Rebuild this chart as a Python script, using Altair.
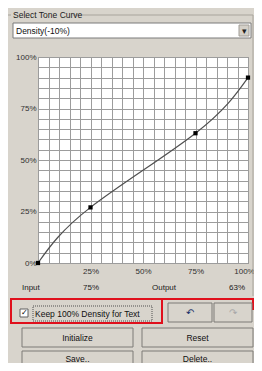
import altair as alt
import pandas as pd

# ---- data ----
curve_input = [0, 25, 75, 100]
curve_output = [0, 27, 63, 90]
grid_values = list(range(0, 101, 5))

title_text = "Select Tone Curve"
dropdown_text = "Density(-10%)"
status_labels = ["Input", "75%", "Output", "63%"]
checkbox_text = "Keep 100% Density for Text"
button_labels = ["Initialize", "Reset", "Save..", "Delete.."]

# ---- layout (page pixel coordinates) ----
OX, OY = 38, 57          # page position of the plot origin
W, H = 210, 206          # plot area
BG = "#d8d4cc"
FONT = "Liberation Sans"

rects = pd.DataFrame([
    # dropdown
    dict(x=13, y=23, x2=251, y2=38, fill="#ffffff", stroke="#7a7a7a"),
    dict(x=239, y=25, x2=249, y2=36, fill="#d4d0c8", stroke="#a09c96"),
    # checkbox
    dict(x=20, y=309, x2=28, y2=317, fill="#ffffff", stroke="#606060"),
    # undo / redo
    dict(x=168, y=303, x2=212, y2=322, fill="#d8d4cc", stroke="#7c7a76"),
    dict(x=214, y=303, x2=252, y2=322, fill="#d8d4cc", stroke="#7c7a76"),
    # buttons
    dict(x=22, y=328, x2=133, y2=347, fill="#d8d4cc", stroke="#7c7a76"),
    dict(x=142, y=328, x2=253, y2=347, fill="#d8d4cc", stroke="#7c7a76"),
    dict(x=22, y=351, x2=133, y2=371, fill="#d8d4cc", stroke="#7c7a76"),
    dict(x=142, y=351, x2=253, y2=371, fill="#d8d4cc", stroke="#7c7a76"),
])
for c, o in (("x", OX), ("x2", OX), ("y", OY), ("y2", OY)):
    rects[c] = rects[c] - o

rules = pd.DataFrame([
    # group box
    dict(x=5, y=15, x2=11, y2=15, c="#a8a49c", w=1),
    dict(x=73, y=15, x2=253, y2=15, c="#a8a49c", w=1),
    dict(x=5, y=15, x2=5, y2=296, c="#a8a49c", w=1),
    dict(x=253, y=15, x2=253, y2=296, c="#a8a49c", w=1),
    # button highlights
    dict(x=23, y=329, x2=132, y2=329, c="#ffffff", w=1),
    dict(x=23, y=329, x2=23, y2=346, c="#ffffff", w=1),
    dict(x=143, y=329, x2=252, y2=329, c="#ffffff", w=1),
    dict(x=143, y=329, x2=143, y2=346, c="#ffffff", w=1),
    dict(x=23, y=352, x2=132, y2=352, c="#ffffff", w=1),
    dict(x=23, y=352, x2=23, y2=370, c="#ffffff", w=1),
    dict(x=143, y=352, x2=252, y2=352, c="#ffffff", w=1),
    dict(x=143, y=352, x2=143, y2=370, c="#ffffff", w=1),
    dict(x=169, y=304, x2=211, y2=304, c="#ffffff", w=1),
    dict(x=215, y=304, x2=251, y2=304, c="#ffffff", w=1),
    # red highlight
    dict(x=162, y=299, x2=262, y2=299, c="#e0101c", w=2),
    dict(x=253, y=299, x2=253, y2=310, c="#e0101c", w=2),
])
for c, o in (("x", OX), ("x2", OX), ("y", OY), ("y2", OY)):
    rules[c] = rules[c] - o

texts_left = pd.DataFrame([
    dict(t=title_text, x=13, y=15, s=8.5, c="#202020"),
    dict(t=dropdown_text, x=16, y=31, s=8.5, c="#101010"),
    dict(t=status_labels[0], x=22, y=288, s=8, c="#202020"),
    dict(t=status_labels[2], x=152, y=288, s=8, c="#202020"),
    dict(t=checkbox_text, x=35, y=313.5, s=8.5, c="#101010"),
])
texts_center = pd.DataFrame([
    dict(t=status_labels[1], x=91, y=288, s=8, c="#202020"),
    dict(t=status_labels[3], x=237, y=288, s=8, c="#202020"),
    dict(t="▾", x=244, y=30.5, s=9, c="#202020"),
    dict(t="✓", x=24, y=313, s=8, c="#000000"),
    dict(t="↶", x=190, y=312.5, s=10, c="#20306a"),
    dict(t="↷", x=233, y=312.5, s=10, c="#a8a8a8"),
    dict(t=button_labels[0], x=77.5, y=337.5, s=8.5, c="#101010"),
    dict(t=button_labels[1], x=197.5, y=337.5, s=8.5, c="#101010"),
    dict(t=button_labels[2], x=77.5, y=358.5, s=8.5, c="#101010"),
    dict(t=button_labels[3], x=197.5, y=358.5, s=8.5, c="#101010"),
])
for df in (texts_left, texts_center):
    df["x"] = df["x"] - OX
    df["y"] = df["y"] - OY

focus = pd.DataFrame([dict(x=33 - OX, y=306 - OY, x2=152 - OX, y2=321 - OY)])
red_box = pd.DataFrame([dict(x=11 - OX, y=299 - OY, x2=162 - OX, y2=323 - OY)])
title_bg = pd.DataFrame([dict(x=11 - OX, y=10 - OY, x2=73 - OX, y2=20 - OY)])

curve = pd.DataFrame({"input": curve_input, "output": curve_output})

xs = alt.Scale(domain=[0, 100], nice=False, zero=False)
ys = alt.Scale(domain=[0, 100], nice=False, zero=False)

lbl_y = "datum.value % 25 == 0 ? datum.value + '%' : ''"
lbl_x = "datum.value % 25 == 0 && datum.value > 0 ? datum.value + '%' : ''"

base_axis = dict(values=grid_values, grid=True, gridColor="#9c9c9c", gridWidth=1,
                 ticks=False, domain=False, labelFontSize=8, labelFont=FONT,
                 labelColor="#303030", labelOverlap=False, labelFlush=False,
                 title=None)

line = alt.Chart(curve).mark_line(
    interpolate="natural", color="#505050", strokeWidth=1.2,
    point=alt.OverlayMarkDef(shape="square", size=18, filled=True, color="#000000", opacity=1),
).encode(
    x=alt.X("input:Q", scale=xs, axis=alt.Axis(
        labelExpr=lbl_x, labelPadding=4,
        labelOffset=alt.condition("datum.value == 100", alt.value(-4), alt.value(0)),
        **base_axis)),
    y=alt.Y("output:Q", scale=ys, axis=alt.Axis(labelExpr=lbl_y, labelPadding=2, **base_axis)),
)


def px_enc(has2=True):
    e = dict(x=alt.X("x:Q", scale=None, axis=None), y=alt.Y("y:Q", scale=None, axis=None))
    if has2:
        e["x2"] = alt.X2("x2:Q")
        e["y2"] = alt.Y2("y2:Q")
    return e


rect_layer = alt.Chart(rects).mark_rect(strokeWidth=1).encode(
    fill=alt.Fill("fill:N", scale=None),
    stroke=alt.Stroke("stroke:N", scale=None),
    **px_enc())
rule_layer = alt.Chart(rules).mark_rule().encode(
    color=alt.Color("c:N", scale=None),
    strokeWidth=alt.StrokeWidth("w:Q", scale=None),
    **px_enc())
title_bg_layer = alt.Chart(title_bg).mark_rect(fill=BG).encode(**px_enc())
focus_layer = alt.Chart(focus).mark_rect(fill="transparent", stroke="#505050",
                                         strokeDash=[1, 1], strokeWidth=1).encode(**px_enc())
red_layer = alt.Chart(red_box).mark_rect(fill="transparent", stroke="#e0101c",
                                         strokeWidth=2).encode(**px_enc())
tl = alt.Chart(texts_left).mark_text(align="left", baseline="middle", font=FONT).encode(
    text="t:N", size=alt.Size("s:Q", scale=None), color=alt.Color("c:N", scale=None),
    **px_enc(False))
tc = alt.Chart(texts_center).mark_text(align="center", baseline="middle", font=FONT).encode(
    text="t:N", size=alt.Size("s:Q", scale=None), color=alt.Color("c:N", scale=None),
    **px_enc(False))

chart = alt.layer(
    line, rule_layer, title_bg_layer, rect_layer, focus_layer, red_layer, tl, tc
).resolve_scale(
    x="independent", y="independent"
).properties(
    width=W, height=H, background=BG,
    autosize=alt.AutoSizeParams(type="none"),
    padding={"left": OX - 8, "top": OY - 8, "right": 254 - OX - W, "bottom": 363 - OY - H},
).configure_view(fill="white", stroke="#808080")

chart.save("out.html", embed_options={"renderer": "svg", "actions": False})
